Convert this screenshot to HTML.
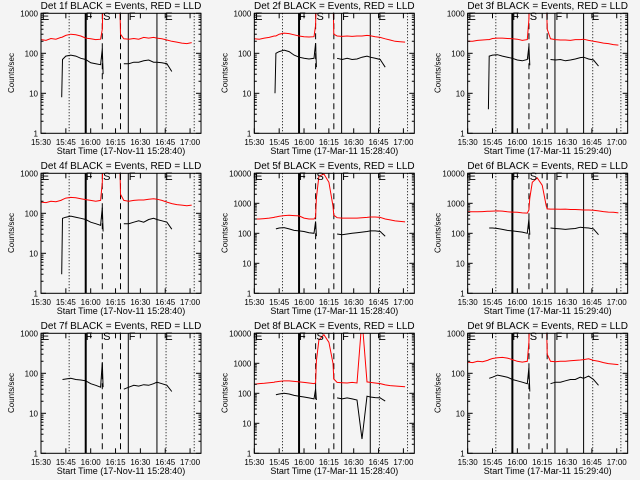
<!DOCTYPE html>
<html><head><meta charset="utf-8"><style>
html,body{margin:0;padding:0;background:#f4f4f4;}
svg{display:block;font-family:"Liberation Sans",sans-serif;}
</style></head><body>
<svg id="chart" width="640" height="480" viewBox="0 0 640 480" xmlns="http://www.w3.org/2000/svg">
<rect x="0" y="0" width="640" height="480" fill="#f4f4f4"/>
</svg>
<script>
// shared time grid (minutes after 15:30)
const timeGrid = [0,3,6,9,12,12.5,13,15,18,21,24,27,30,33,36,37,37.5,39,42,45,47.5,48,50,53,56,59,62,65,68,70,73,76,79,82,85,88,91,94];
const xTickLabels = ["15:30","15:45","16:00","16:15","16:30","16:45","17:00"];
const xTickTimes = [0,15,30,45,60,75,90];
const markerDotted = [17,75.5,92.5];
const markerSolid = [52.7,70];
const markerThick = [27];
const markerDashed = [37,48];
const detNames = ["1f","2f","3f","4f","5f","6f","7f","8f","9f"];
const startTimes = ["17-Nov-11 15:28:40","17-Mar-11 15:28:40","17-Mar-11 15:29:40","17-Nov-11 15:28:40","17-Mar-11 15:28:40","17-Mar-11 15:29:40","17-Nov-11 15:28:40","17-Mar-11 15:28:40","17-Mar-11 15:29:40"];
const yDecades = [3,3,3,3,4,4,3,4,3];
const N = null;
const red1 = [220,210,235,225,250,250,255,280,300,290,270,240,230,220,225,400,3000,3000,3000,3000,3000,300,230,225,235,225,250,240,250,240,230,215,200,190,180,175,185,N];
const black1 = [N,N,N,N,N,8,70,85,90,85,75,70,58,55,52,130,30,N,N,N,N,N,55,55,60,60,65,68,60,60,58,55,35,N,N,N,N,N];
const red2 = [230,225,240,250,270,270,270,300,320,310,290,270,260,255,260,500,3000,3000,3000,3000,3000,300,270,265,270,265,270,270,280,275,260,250,230,215,200,195,190,N];
const black2 = [N,N,N,N,N,10,100,110,120,110,90,80,75,72,75,180,45,N,N,N,N,N,75,70,75,70,72,80,85,80,75,70,45,N,N,N,N,N];
const red3 = [200,200,210,215,220,220,220,235,240,240,235,230,225,210,220,700,3000,3000,3000,3000,3000,400,230,220,215,215,210,220,220,225,210,200,190,180,175,165,160,N];
const black3 = [N,N,N,N,N,4,85,90,92,85,80,75,68,65,70,150,50,N,N,N,N,N,70,68,70,65,68,72,78,80,72,68,48,N,N,N,N,N];
const red4 = [190,185,200,195,210,215,220,240,250,245,230,220,210,200,210,600,3000,3000,3000,3000,3000,300,210,200,210,215,215,225,230,225,210,190,175,165,160,155,160,N];
const black4 = [N,N,N,N,N,3,75,80,85,80,75,70,60,55,50,140,35,N,N,N,N,N,55,55,60,65,60,70,75,70,65,60,40,N,N,N,N,N];
const red5 = [300,300,310,320,340,350,350,370,390,400,390,380,320,300,300,350,1500,8000,9500,5000,800,400,330,320,320,320,320,330,340,350,350,340,300,280,260,250,240,N];
const black5 = [N,N,N,N,N,N,140,150,155,140,125,120,115,105,100,250,80,N,N,N,N,N,95,90,95,100,105,110,115,120,120,115,80,N,N,N,N,N];
const red6 = [520,520,520,530,540,540,540,550,560,550,520,510,500,480,470,600,1500,5000,7000,4000,800,650,640,640,630,640,620,620,610,600,600,590,560,530,510,500,480,N];
const black6 = [N,N,N,N,N,N,150,150,145,135,125,120,115,110,100,300,90,N,N,N,N,N,150,145,140,135,140,145,160,155,150,140,90,N,N,N,N,N];
const red7 = [N,N,N,N,N,N,N,N,N,N,N,N,N,N,N,N,N,N,N,N,N,N,N,N,N,N,N,N,N,N,N,N,N,N,N,N,N,N];
const black7 = [N,N,N,N,N,N,70,72,75,70,68,65,55,50,45,190,45,N,N,N,N,N,40,45,50,48,52,50,55,60,55,50,35,N,N,N,N,N];
const red8 = [200,210,215,225,235,240,240,250,260,260,250,240,230,220,210,220,1200,6000,9000,5000,1000,300,230,225,220,230,220,30000,240,230,220,210,190,180,175,170,165,N];
const black8 = [N,N,N,N,N,N,90,95,100,95,85,80,75,70,65,140,60,N,N,N,N,N,70,65,70,65,60,3,80,75,72,70,55,N,N,N,N,N];
const red9 = [190,185,200,195,210,215,220,235,245,250,240,220,200,190,200,600,3000,3000,3000,3000,3000,300,200,195,200,200,205,210,215,220,230,210,200,185,175,170,165,N];
const black9 = [N,N,N,N,N,N,75,80,90,85,80,70,65,60,55,140,35,N,N,N,N,N,55,60,60,65,70,70,80,75,85,70,50,N,N,N,N,N];
const redSeries = [red1,red2,red3,red4,red5,red6,red7,red8,red9];
const blackSeries = [black1,black2,black3,black4,black5,black6,black7,black8,black9];
const letterTimes = [0.5,27,37.5,47,53,75];
const letterTexts = ["E","F","S","I","F","E"];

const NS = "http://www.w3.org/2000/svg";
const svg = document.getElementById("chart");
function mk(tag, attrs, parent){const e=document.createElementNS(NS,tag);for(const k in attrs)e.setAttribute(k,attrs[k]);(parent||svg).appendChild(e);return e;}
const TMAX = 96.6;
for(let p=0;p<9;p++){
  const ox = (p%3)*213.33, oy = Math.floor(p/3)*160;
  const X0 = ox+41, X1 = ox+201, Y0 = oy+13.3, Y1 = oy+133.3;
  const dec = yDecades[p];
  const xs = t => X0 + (t/TMAX)*(X1-X0);
  const ys = v => Y1 - (Math.log10(v)/dec)*(Y1-Y0);
  const g = mk("g",{});
  
  
  const cp = mk("clipPath",{id:"clip"+p},g);
  mk("rect",{x:X0,y:Y0,width:X1-X0,height:Y1-Y0},cp);
  // title
  const title = mk("text",{x:ox+121,y:oy+9,"text-anchor":"middle","font-size":"10"},g);
  title.textContent = "Det "+detNames[p]+" BLACK = Events, RED = LLD";
  
  
  // markers
  const mg = mk("g",{"clip-path":"url(#clip"+p+")"},g);
  
  
  markerDotted.forEach(t=>mk("line",{x1:xs(t),x2:xs(t),y1:Y0,y2:Y1,stroke:"#000","stroke-width":1,"stroke-dasharray":"1,2"},mg));
  markerSolid.forEach(t=>mk("line",{x1:xs(t),x2:xs(t),y1:Y0,y2:Y1,stroke:"#000","stroke-width":1},mg));
  markerThick.forEach(t=>mk("line",{x1:xs(t),x2:xs(t),y1:Y0,y2:Y1,stroke:"#000","stroke-width":2},mg));
  markerDashed.forEach(t=>mk("line",{x1:xs(t),x2:xs(t),y1:Y0,y2:Y1,stroke:"#000","stroke-width":1,"stroke-dasharray":"6,4"},mg));
  // series
  function drawSeries(vals,color,name){
    let d="",pen=false;
    for(let i=0;i<timeGrid.length;i++){
      const v=vals[i];
      if(v===null){pen=false;continue;}
      d+=(pen?"L":"M")+xs(timeGrid[i]).toFixed(1)+","+ys(v).toFixed(1);
      pen=true;
    }
    if(!d)return;
    const path=mk("path",{d:d,fill:"none",stroke:color,"stroke-width":1,"clip-path":"url(#clip"+p+")"},g);
    
    
  }
  drawSeries(redSeries[p],"#ff0000","lld-series");
  drawSeries(blackSeries[p],"#000000","events-series");
  // frame
  const fr = mk("rect",{x:X0,y:Y0,width:X1-X0,height:Y1-Y0,fill:"none",stroke:"#000","stroke-width":1},g);
  
  
  // letters
  letterTimes.forEach((t,i)=>{
    const tx = mk("text",{x:xs(t),y:oy+20,"font-size":"11"},g);
    tx.textContent = letterTexts[i];
    
    
  });
  // y ticks
  for(let k=0;k<=dec;k++){
    const v=Math.pow(10,k), y=ys(v);
    mk("line",{x1:X0,x2:X0+5,y1:y,y2:y,stroke:"#000"},g);
    mk("line",{x1:X1,x2:X1-5,y1:y,y2:y,stroke:"#000"},g);
    const lb=mk("text",{x:X0-3,y:y+3,"text-anchor":"end","font-size":"8"},g);
    lb.textContent=String(v);
    
    
    if(k<dec){for(let m=2;m<10;m++){const ym=ys(v*m);
      mk("line",{x1:X0,x2:X0+2.5,y1:ym,y2:ym,stroke:"#000"},g);
      mk("line",{x1:X1,x2:X1-2.5,y1:ym,y2:ym,stroke:"#000"},g);}}
  }
  // x ticks
  xTickTimes.forEach((t,i)=>{
    const x=xs(t);
    mk("line",{x1:x,x2:x,y1:Y1,y2:Y1-5,stroke:"#000"},g);
    mk("line",{x1:x,x2:x,y1:Y0,y2:Y0+5,stroke:"#000"},g);
    const lb=mk("text",{x:x,y:oy+145,"text-anchor":"middle","font-size":"8"},g);
    lb.textContent=xTickLabels[i];
    
    
  });
  const xt=mk("text",{x:ox+121,y:oy+154,"text-anchor":"middle","font-size":"9"},g);
  xt.textContent="Start Time ("+startTimes[p]+")";
  
  
  const yt=mk("text",{x:0,y:0,"text-anchor":"middle","font-size":"8",transform:"translate("+(ox+14)+","+(oy+73)+") rotate(-90)"},g);
  yt.textContent="Counts/sec";
  
  
}
</script>
</body></html>
